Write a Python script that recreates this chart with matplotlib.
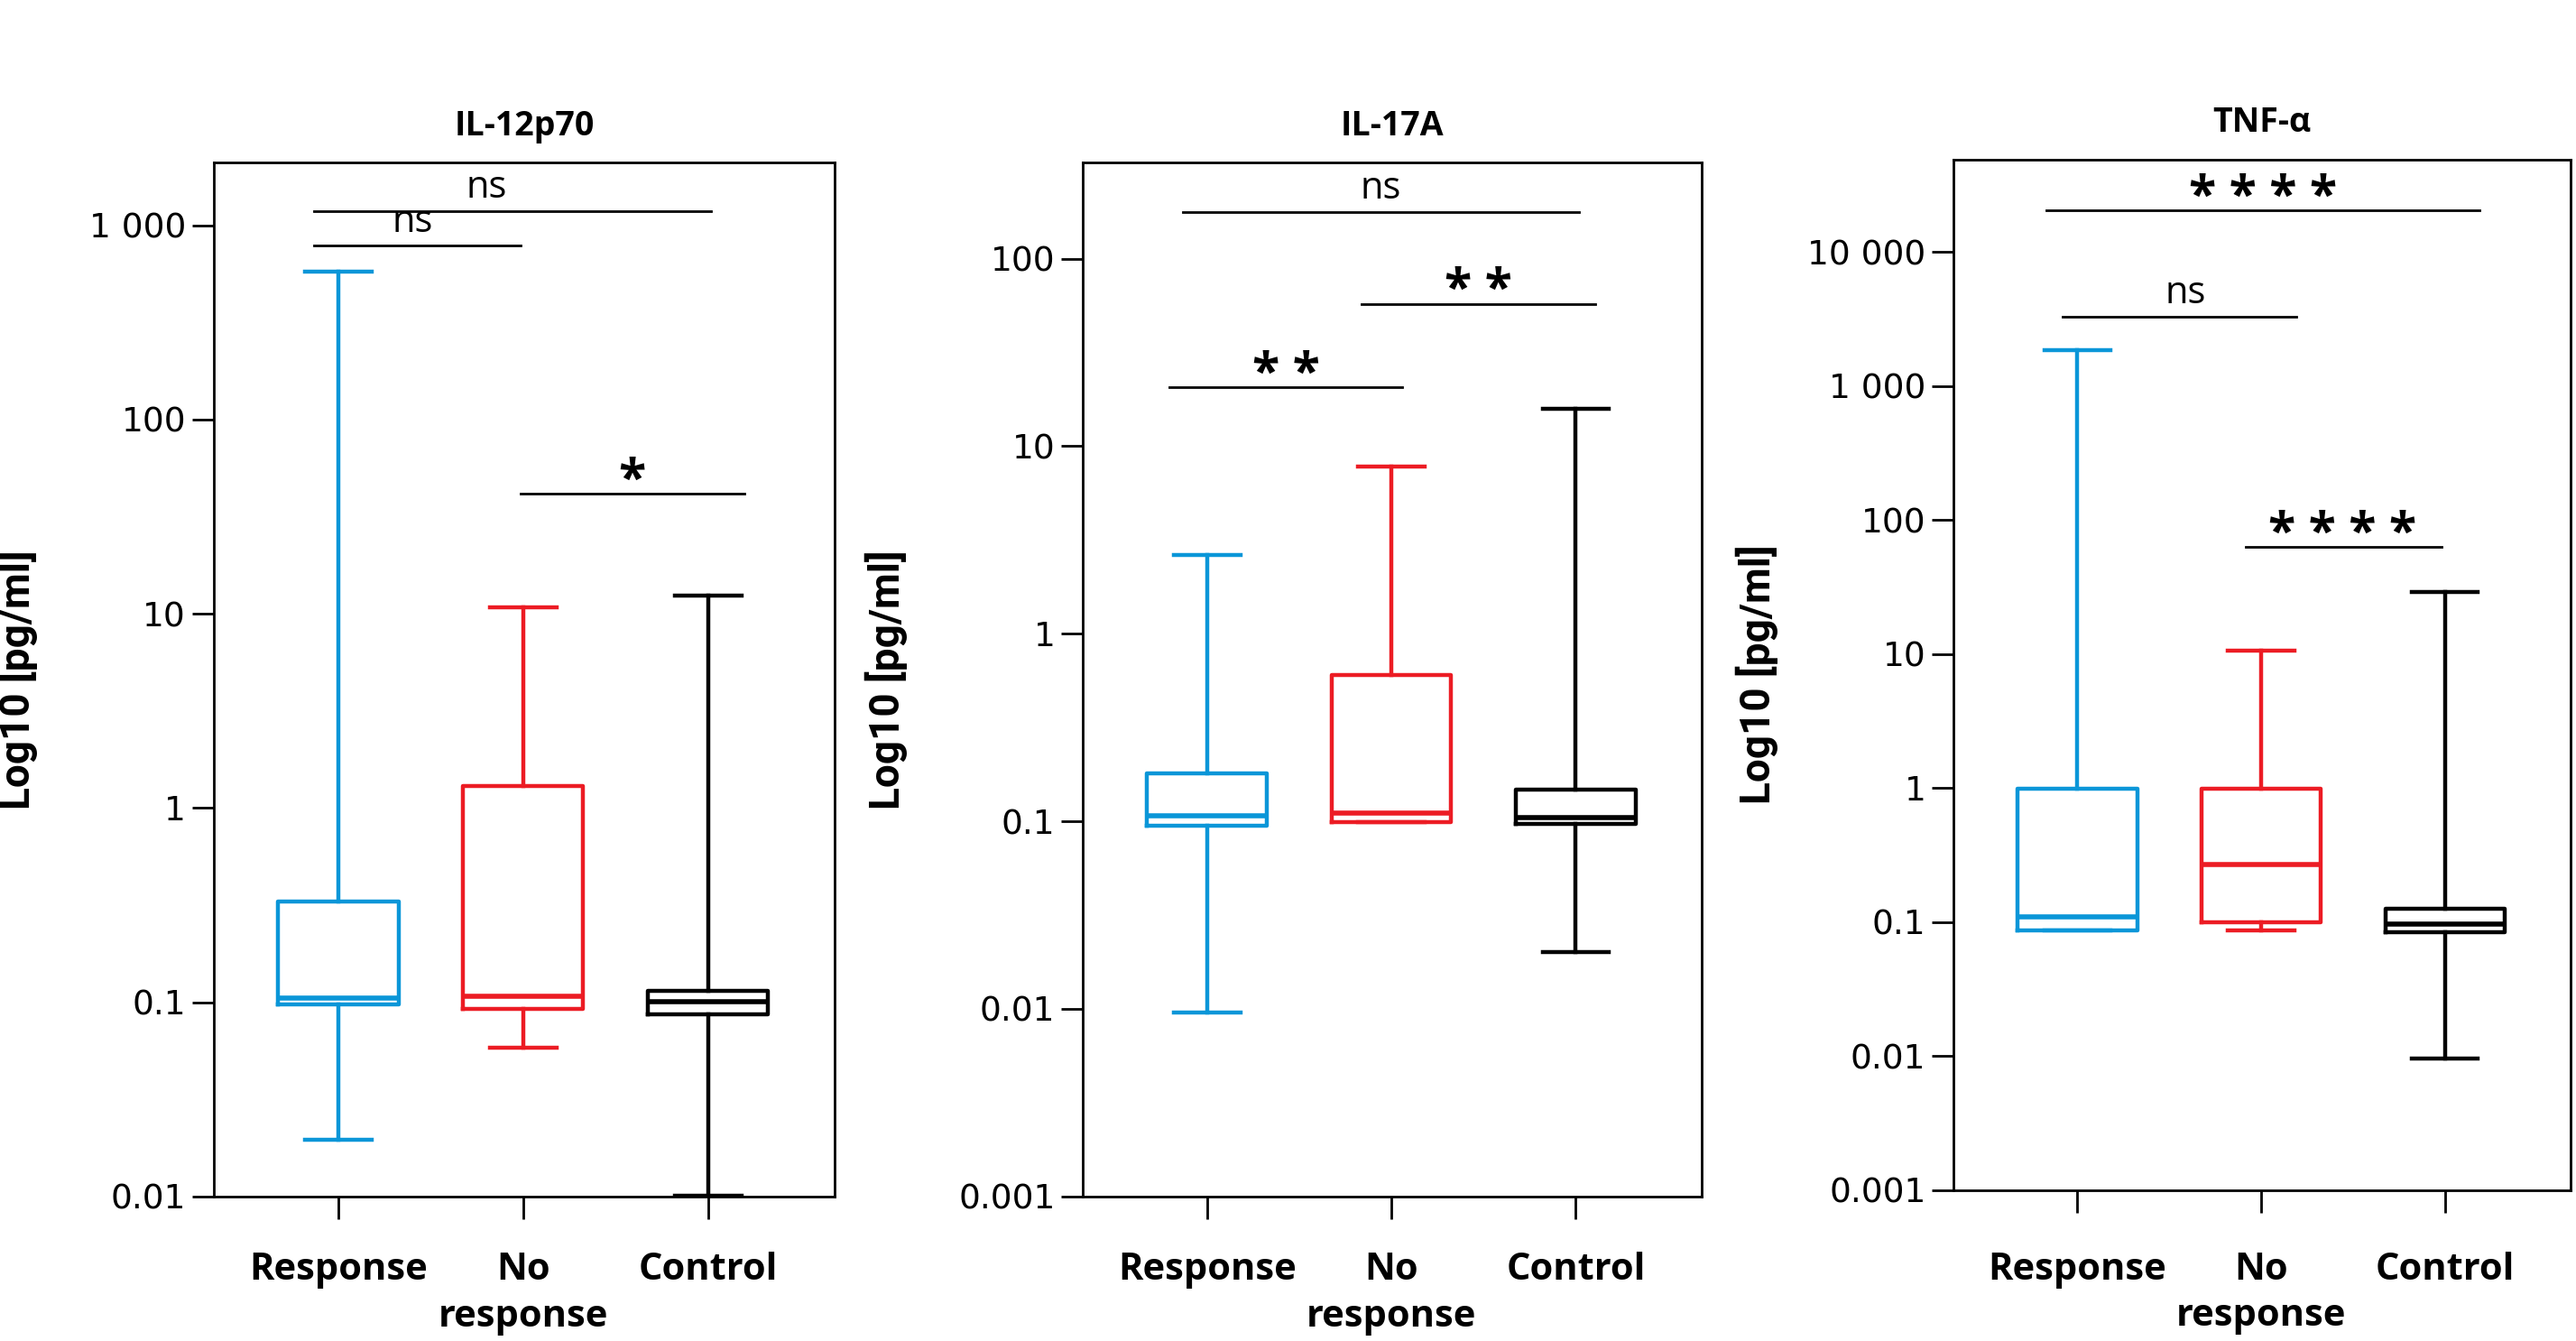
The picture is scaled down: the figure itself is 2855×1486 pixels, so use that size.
import matplotlib
matplotlib.use('Agg')
import matplotlib.pyplot as plt
from matplotlib.ticker import FixedLocator, FixedFormatter, NullLocator

# ---------------- data ----------------
categories = ['Response', 'No\nresponse', 'Control']
group_colors = ['#0a96d8', '#ec1c24', '#000000']
titles = ['IL-12p70', 'IL-17A', 'TNF-α']
ylabel = 'Log10 [pg/ml]'

# IL-12p70
il12_whislo = [0.0195, 0.058, 0.0101]
il12_q1 = [0.0975, 0.092, 0.087]
il12_med = [0.105, 0.107, 0.101]
il12_q3 = [0.33, 1.3, 0.114]
il12_whishi = [580, 10.8, 12.4]

# IL-17A
il17_whislo = [0.0096, 0.099, 0.0201]
il17_q1 = [0.095, 0.099, 0.097]
il17_med = [0.107, 0.111, 0.105]
il17_q3 = [0.181, 0.606, 0.148]
il17_whishi = [2.64, 7.8, 15.8]

# TNF-alpha
tnf_whislo = [0.087, 0.086, 0.0095]
tnf_q1 = [0.087, 0.1, 0.084]
tnf_med = [0.109, 0.27, 0.097]
tnf_q3 = [0.99, 0.99, 0.125]
tnf_whishi = [1860, 10.6, 29.2]

# y ticks and limits
il12_ticks = [0.01, 0.1, 1, 10, 100, 1000]
il12_ticklabels = ['0.01', '0.1', '1', '10', '100', '1 000']
il12_ylim = (0.01, 2100)
il17_ticks = [0.001, 0.01, 0.1, 1, 10, 100]
il17_ticklabels = ['0.001', '0.01', '0.1', '1', '10', '100']
il17_ylim = (0.001, 325)
tnf_ticks = [0.001, 0.01, 0.1, 1, 10, 100, 1000, 10000]
tnf_ticklabels = ['0.001', '0.01', '0.1', '1', '10', '100', '1 000', '10 000']
tnf_ylim = (0.001, 49000)

# significance bars: (x start, x end, y level, label, label x)
il12_sig = [(-0.133, 2.018, 1180, 'ns', 0.80),
            (-0.133, 0.987, 784, 'ns', 0.40),
            (0.987, 2.196, 41.5, '*', 1.59)]
il17_sig = [(-0.133, 2.018, 177, 'ns', 0.94),
            (-0.204, 1.058, 20.6, '* *', 0.43),
            (0.836, 2.107, 57.5, '* *', 1.47)]
tnf_sig = [(-0.17, 2.19, 20560, '* * * *', 1.01),
           (-0.08, 1.19, 3270, 'ns', 0.59),
           (0.915, 1.98, 62.8, '* * * *', 1.44)]

panels = [
    (titles[0], il12_whislo, il12_q1, il12_med, il12_q3, il12_whishi,
     il12_ticks, il12_ticklabels, il12_ylim, il12_sig),
    (titles[1], il17_whislo, il17_q1, il17_med, il17_q3, il17_whishi,
     il17_ticks, il17_ticklabels, il17_ylim, il17_sig),
    (titles[2], tnf_whislo, tnf_q1, tnf_med, tnf_q3, tnf_whishi,
     tnf_ticks, tnf_ticklabels, tnf_ylim, tnf_sig),
]

# ---------------- layout ----------------
axes_rects = [
    [0.0829, 0.1078, 0.2411, 0.7709],
    [0.4203, 0.1078, 0.2404, 0.7709],
    [0.7583, 0.1127, 0.2397, 0.7683],
]
xpads = [13, 13, 15.5]

reg_font = ['Open Sans', 'DejaVu Sans']
tick_font = ['DejaVu Sans']
label_font = ['Roboto', 'DejaVu Sans']

fig = plt.figure(figsize=(14.275, 7.43), dpi=200)

for rect, xpad, (title, wlo, q1, med, q3, whi, ticks, tlabels, ylim, sigs) in zip(axes_rects, xpads, panels):
    ax = fig.add_axes(rect)
    stats = []
    for i in range(len(categories)):
        stats.append(dict(whislo=wlo[i], q1=q1[i], med=med[i], q3=q3[i],
                          whishi=whi[i], fliers=[], label=categories[i]))
    positions = list(range(len(categories)))
    for i, st in enumerate(stats):
        c = group_colors[i]
        ax.bxp([st], positions=[positions[i]], widths=0.65, showfliers=False,
               boxprops=dict(color=c, linewidth=1.6),
               whiskerprops=dict(color=c, linewidth=1.6),
               capprops=dict(color=c, linewidth=1.6),
               medianprops=dict(color=c, linewidth=2.0),
               capwidths=0.36, manage_ticks=False)
    ax.set_yscale('log')
    ax.set_ylim(*ylim)
    ax.set_xlim(-0.675, 2.685)
    ax.yaxis.set_major_locator(FixedLocator(ticks))
    ax.yaxis.set_major_formatter(FixedFormatter(tlabels))
    ax.yaxis.set_minor_locator(NullLocator())
    ax.set_xticks(positions)
    ax.set_xticklabels(categories, fontsize=15, fontweight='bold',
                       family=reg_font, linespacing=1.35)
    for lab in ax.get_yticklabels():
        lab.set_fontsize(13.5)
        lab.set_family(tick_font)
    ax.tick_params(axis='y', direction='out', length=8.5, width=1.0, pad=2.5)
    ax.tick_params(axis='x', direction='out', length=9, width=1.0, pad=xpad)
    for sp in ax.spines.values():
        sp.set_linewidth(1.0)
    ax.set_title(title, fontsize=13.5, fontweight='bold', family=reg_font, pad=11)
    ax.set_ylabel(ylabel, fontsize=16.5, fontweight='bold', family=label_font)
    ax.yaxis.set_label_coords(-0.283, 0.5)

    for (x1, x2, y, lab, tx) in sigs:
        ax.plot([x1, x2], [y, y], color='black', linewidth=1.0, clip_on=False)
        if 'ns' in lab:
            ax.annotate(lab, xy=(tx, y), xytext=(0, 2.0), textcoords='offset points',
                        ha='center', va='bottom', fontsize=15, family=reg_font)
        else:
            ax.annotate(lab, xy=(tx, y), xytext=(0, -5), textcoords='offset points',
                        ha='center', va='bottom', fontsize=20, fontweight='bold',
                        family=reg_font)

fig.savefig('out.png', dpi=200)
